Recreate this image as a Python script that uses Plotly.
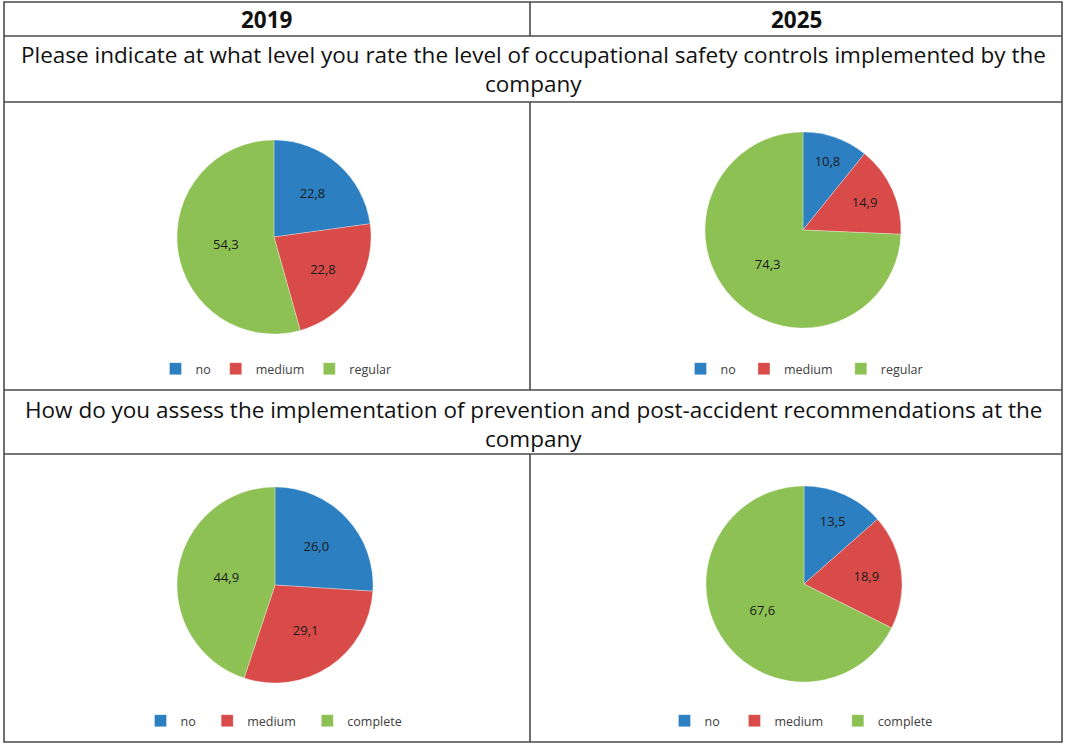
import plotly.graph_objects as go

W, H = 1065, 746

years = ["2019", "2025"]
questions = [
    ["Please indicate at what level you rate the level of occupational safety controls implemented by the",
     "company"],
    ["How do you assess the implementation of prevention and post-accident recommendations at the",
     "company"],
]
labels_q1 = ["no", "medium", "regular"]
labels_q2 = ["no", "medium", "complete"]
q1_2019 = [22.8, 22.8, 54.3]
q1_2025 = [10.8, 14.9, 74.3]
q2_2019 = [26.0, 29.1, 44.9]
q2_2025 = [13.5, 18.9, 67.6]

colors = ["#2C7FC1", "#D84B49", "#8DC153"]
FONT = "Open Sans"


def px(x):
    return x / W


def py(y):
    return 1 - y / H


# table grid (pixel positions)
left, right, top, bottom = 4, 1062, 2, 742
mid_x = 530
h_lines = [36, 102, 390, 454]

# pie boxes: (cx, cy, r) in pixels, legend centre
pies = [
    (labels_q1, q1_2019, (274, 237, 97), (276, 369)),
    (labels_q1, q1_2025, (803, 230, 98), (806, 369)),
    (labels_q2, q2_2019, (275, 585, 98), (277, 721)),
    (labels_q2, q2_2025, (804, 584, 98), (806, 721)),
]

fig = go.Figure()

for i, (labs, vals, (cx, cy, r), _) in enumerate(pies):
    leg = "legend" if i == 0 else f"legend{i + 1}"
    # pie legend entries are shared by label across traces, so pad with
    # invisible trailing spaces to keep each chart's legend separate
    fig.add_trace(go.Pie(
        labels=[lab + " " * i for lab in labs],
        values=vals,
        sort=False,
        direction="clockwise",
        rotation=0,
        marker=dict(colors=colors, line=dict(color="rgba(255,255,255,0.6)", width=0.5)),
        texttemplate="%{value:.1f}",
        textposition="inside",
        insidetextorientation="horizontal",
        textfont=dict(family=FONT, size=13, color="#1b1b1b"),
        hoverinfo="label+value",
        domain=dict(x=[px(cx - r), px(cx + r)], y=[py(cy + r), py(cy - r)]),
        legend=leg,
        showlegend=True,
    ))

legends = {}
for i, (_, _, _, (lx, ly)) in enumerate(pies):
    key = "legend" if i == 0 else f"legend{i + 1}"
    legends[key] = dict(
        orientation="h",
        x=px(lx), y=py(ly),
        xanchor="center", yanchor="middle",
        font=dict(family=FONT, size=12.5, color="#404040"),
        itemwidth=30,
        bgcolor="rgba(0,0,0,0)",
        traceorder="normal",
    )

shapes = [dict(type="rect", xref="paper", yref="paper",
               x0=px(left), x1=px(right), y0=py(bottom), y1=py(top),
               line=dict(color="#4a4a4a", width=1.6))]
for y in h_lines:
    shapes.append(dict(type="line", xref="paper", yref="paper",
                       x0=px(left), x1=px(right), y0=py(y), y1=py(y),
                       line=dict(color="#4a4a4a", width=1.6)))
# vertical divider only in header and chart rows
for y0, y1 in [(top, h_lines[0]), (h_lines[1], h_lines[2]), (h_lines[3], bottom)]:
    shapes.append(dict(type="line", xref="paper", yref="paper",
                       x0=px(mid_x), x1=px(mid_x), y0=py(y1), y1=py(y0),
                       line=dict(color="#4a4a4a", width=1.6)))

annotations = []
for x, yr in zip([267, 796], years):
    annotations.append(dict(text=f"<b>{yr}</b>", x=px(x), y=py(19), xref="paper", yref="paper",
                            showarrow=False, xanchor="center", yanchor="middle",
                            font=dict(family=FONT, size=22.5, color="#111111")))
for q, (y1, y2) in zip(questions, [(54, 84), (409, 439)]):
    for line, y in zip(q, (y1, y2)):
        annotations.append(dict(text=line, x=px(533), y=py(y), xref="paper", yref="paper",
                                showarrow=False, xanchor="center", yanchor="middle",
                                font=dict(family=FONT, size=22.5, color="#111111")))

fig.update_layout(
    width=W, height=H,
    margin=dict(l=0, r=0, t=0, b=0),
    paper_bgcolor="white",
    plot_bgcolor="white",
    separators=",.",
    shapes=shapes,
    annotations=annotations,
    **legends,
)

fig.write_html("out.html", config={"displayModeBar": False},
               post_script="document.body.style.margin='0';")
